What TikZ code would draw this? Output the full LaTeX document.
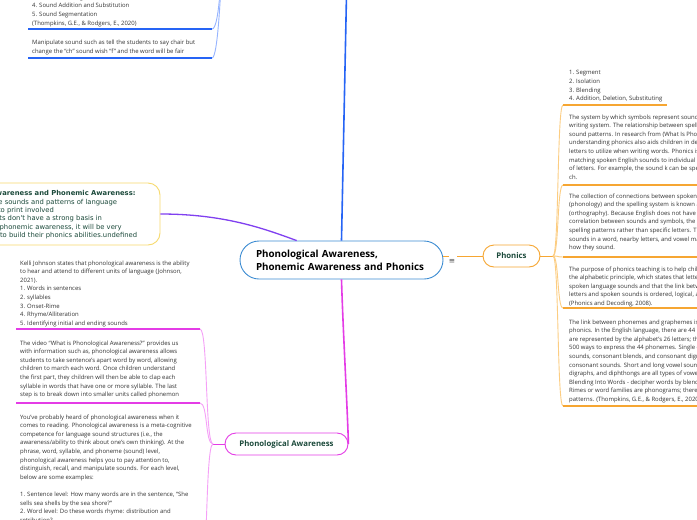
\documentclass[tikz,border=0pt]{standalone}
\usepackage{fontspec}
\setmainfont{Open Sans}
\newfontfamily\dejavu{DejaVu Sans}
\usetikzlibrary{calc}
\definecolor{bluemain}{RGB}{38,100,245}
\definecolor{bluelight}{RGB}{150,180,255}
\definecolor{cenblue}{RGB}{60,140,210}
\definecolor{orgmain}{RGB}{246,166,50}
\definecolor{orglight}{RGB}{252,205,130}
\definecolor{magmain}{RGB}{228,60,230}
\definecolor{maglight}{RGB}{245,160,247}
\definecolor{purp}{RGB}{128,64,240}
\definecolor{yel}{RGB}{247,218,110}
\definecolor{lbl}{RGB}{28,74,59}
\definecolor{bodytext}{RGB}{50,50,50}
\newcommand\bodyfont{\fontsize{5.95}{8.6}\selectfont}
\newcommand\titlefont{\bfseries\fontsize{9.8}{13}\selectfont}
\newcommand\lblfont{\bfseries\fontsize{7.8}{9}\selectfont}
\newcommand\yelfont{\dejavu\fontsize{6.8}{8.3}\selectfont}
\begin{document}
\begin{tikzpicture}[x=1pt,y=-1pt,
  body/.style={anchor=north west, inner sep=0, align=left, font=\bodyfont, text=bodytext},
  under/.style={line width=1.3},
  conn/.style={line width=0.9},
  topic/.style={draw, line width=0.9, fill=white, rounded corners=11, minimum height=22, inner xsep=0, font=\lblfont, text=lbl}
]
\useasboundingbox (0,0) rectangle (697,520);
\clip (0,0) rectangle (697,520);
\fill[white] (0,0) rectangle (697,520);

% ---------- coordinates ----------
\coordinate (topparent) at (347,-30);
\coordinate (bj) at (223,-60);
\coordinate (b1s) at (28,29);   \coordinate (b1e) at (212,29);
\coordinate (b2s) at (28,58);   \coordinate (b2e) at (212,58);
\coordinate (phj) at (553,256);
\coordinate (r1s) at (563,105); \coordinate (r1e) at (667,105);
\coordinate (r2s) at (563,185); \coordinate (r2e) at (720,185);
\coordinate (r3s) at (563,257); \coordinate (r3e) at (720,257);
\coordinate (r4s) at (563,308); \coordinate (r4e) at (720,308);
\coordinate (r5s) at (563,406); \coordinate (r5e) at (720,406);
\coordinate (pj) at (213,444);
\coordinate (l1s) at (16,329);  \coordinate (l1e) at (200,329);
\coordinate (l2s) at (16,403);  \coordinate (l2e) at (200,403);
\coordinate (l3s) at (16,590);  \coordinate (l3e) at (200,590);

% ---------- nodes ----------
\node[draw=cenblue, line width=0.9, fill=white, rounded corners=19, minimum height=38,
      text width=171, inner xsep=16, inner ysep=0, align=left, font=\titlefont, text=black] (cen) at (341.5,260)
      {Phonological Awareness,\\Phonemic Awareness and Phonics};
\node[topic, draw=orgmain, minimum width=57] (ph) at (511.5,256) {Phonics};
\node[topic, draw=magmain, minimum width=123] (pa) at (286.5,444) {Phonological Awareness};
\node[draw=yel, line width=0.9, fill=white, rounded corners=12, minimum width=280, minimum height=62, inner sep=0] (yb) at (20,214) {};
\node[font=\dejavu\fontsize{7.5}{7.5}\selectfont, text=black!70, inner sep=0] (eq) at (452,261) {≡};

% ---------- main branches ----------
\draw[bluemain, line width=1.6] (cen.north) -- (topparent);
\draw[magmain, line width=1.6] (cen.south) .. controls (343,330) and (347,400) .. (pa.east);
\draw[purp, line width=1.3] ($(cen.north)!0.44!(cen.north west)$) .. controls (265,229) and (225,214) .. (yb.east);
\draw[orgmain, line width=1] (cen.east |- ph.west) -- (ph.west -| eq.west);
\draw[orgmain, line width=1] (ph.west) -- +(-26,0);
\draw[orgmain, line width=1] (ph.east) -- (phj);
\draw[magmain, line width=1] (pa.west) -- (pj);

% ---------- blue children ----------
\draw[bluelight, conn] (b1e) .. controls +(7,0) and +(-2,40) .. (bj);
\draw[bluelight, conn] (b2e) .. controls +(6,0) and +(-2,50) .. (bj);
\draw[bluemain, under] (b1s) -- (b1e);
\draw[bluemain, under] (b2s) -- (b2e);
\node[body] (tb1) at (32,-31.3) {Phonemic Awareness Skills:\\1. Sound Isolation\\2. Sound Identification\\3. Sound Blending\\4. Sound Addition and Substitution\\5. Sound Segmentation\\(Thompkins, G.E., \& Rodgers, E., 2020)};
\node[body] (tb2) at (32,40.1) {Manipulate sound such as tell the students to say chair but\\change the ``ch'' sound wish ``f'' and the word will be fair};

% ---------- orange children ----------
\foreach \c in {r1s,r2s,r3s,r4s,r5s}{
  \draw[orglight, conn] (phj) .. controls +(6,0) and +(-6,0) .. (\c);
}
\draw[orgmain, under] (r1s) -- (r1e);
\draw[orgmain, under] (r2s) -- (r2e);
\draw[orgmain, under] (r3s) -- (r3e);
\draw[orgmain, under] (r4s) -- (r4e);
\draw[orgmain, under] (r5s) -- (r5e);
\node[body] (tr1) at (569,70.4) {1. Segment\\2. Isolation\\3. Blending\\4. Addition, Deletion, Substituting};
\node[body] (tr2) at (569,114.4) {The system by which symbols represent sounds in an alphabetic\\writing system. The relationship between spelling patterns and\\sound patterns. In research from (What Is Phonics?, 2008)\\understanding phonics also aids children in deciding which\\letters to utilize when writing words. Phonics is about\\matching spoken English sounds to individual letters or groups\\of letters. For example, the sound k can be spelled as c, k, ck, or\\ch.};
\node[body] (tr3) at (569,193.4) {The collection of connections between spoken English\\(phonology) and the spelling system is known as phonics\\(orthography). Because English does not have a one-to-one\\correlation between sounds and symbols, the focus is on\\spelling patterns rather than specific letters. The position of\\sounds in a word, nearby letters, and vowel markers affect\\how they sound.};
\node[body] (tr4) at (569,266.4) {The purpose of phonics teaching is to help children understand\\the alphabetic principle, which states that letters represent\\spoken language sounds and that the link between written\\letters and spoken sounds is ordered, logical, and predictable\\(Phonics and Decoding, 2008).};
\node[body] (tr5) at (569,319.4) {The link between phonemes and graphemes is referred to as\\phonics. In the English language, there are 44 phonemes, which\\are represented by the alphabet's 26 letters; there are over\\500 ways to express the 44 phonemes. Single consonant\\sounds, consonant blends, and consonant digraphs are all\\consonant sounds. Short and long vowel sounds, vowel\\digraphs, and diphthongs are all types of vowel sounds.\\Blending Into Words - decipher words by blending sounds.\\Rimes or word families are phonograms; there are 37 common\\patterns. (Thompkins, G.E., \& Rodgers, E., 2020)};

% ---------- magenta children ----------
\foreach \c in {l1e,l2e,l3e}{
  \draw[maglight, conn] (\c) .. controls +(8,0) and +(-8,0) .. (pj);
}
\draw[magmain, under] (l1s) -- (l1e);
\draw[magmain, under] (l2s) -- (l2e);
\draw[magmain, under] (l3s) -- (l3e);
\node[body] (tl1) at (20,260.4) {Kelli Johnson states that phonological awareness is the ability\\to hear and attend to different units of language (Johnson,\\2021).\\1. Words in sentences\\2. syllables\\3. Onset-Rime\\4. Rhyme/Alliteration\\5. Identifying initial and ending sounds};
\node[body] (tl2) at (20,340.4) {The video ``What is Phonological Awareness?'' provides us\\with information such as, phonological awareness allows\\students to take sentence's apart word by word, allowing\\children to march each word. Once children understand\\the first part, they children will then be able to clap each\\syllable in words that have one or more syllable. The last\\step is to break down into smaller units called phonemon};
\node[body] (tl3) at (20,414.4) {You've probably heard of phonological awareness when it\\comes to reading. Phonological awareness is a meta-cognitive\\competence for language sound structures (i.e., the\\awareness/ability to think about one's own thinking). At the\\phrase, word, syllable, and phoneme (sound) level,\\phonological awareness helps you to pay attention to,\\distinguish, recall, and manipulate sounds. For each level,\\below are some examples:\\[8.6pt]1. Sentence level: How many words are in the sentence, ``She\\sells sea shells by the sea shore?''\\2. Word level: Do these words rhyme: distribution and\\retribution?\\3. Syllable level: How many syllables are in ``caterpillar''?};

% ---------- yellow node text ----------
\node[anchor=north west, inner sep=0, align=left, font=\yelfont, text=lbl] (ty) at (-61,190.6)
 {\textbf{Phonological Awareness and Phonemic Awareness:}\\Understanding the sounds and patterns of language\\with no relations to print involved\\If younger students don't have a strong basis in\\phonological and phonemic awareness, it will be very\\hard for students to build their phonics abilities.undefined};
\end{tikzpicture}
\end{document}
